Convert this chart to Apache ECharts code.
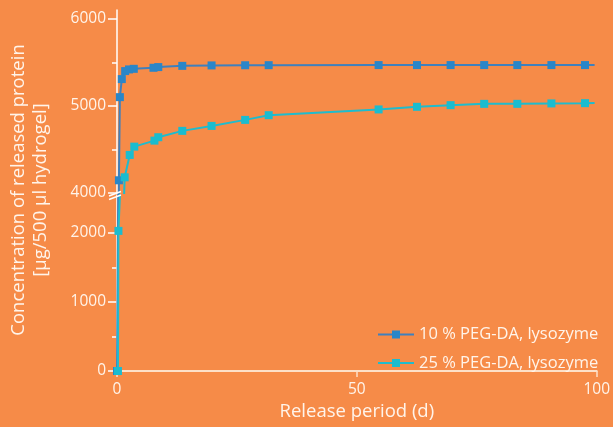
<!DOCTYPE html>
<html>
<head>
<meta charset="utf-8">
<style>
html,body{margin:0;padding:0;background:#f68b48;}
#c{width:613px;height:427px;}
</style>
<script src="https://cdn.jsdelivr.net/npm/echarts@6/dist/echarts.min.js"></script>
</head>
<body>
<div id="c"></div>
<script>
// ---- data ----
var seriesNames = ['10 % PEG-DA, lysozyme', '25 % PEG-DA, lysozyme'];
var days10 = [0, 0.4, 0.6, 1.0, 1.7, 2.5, 3.5, 7.6, 8.6, 13.6, 19.7, 26.7, 31.6, 54.5, 62.5, 69.5, 76.5, 83.4, 90.5, 97.5, 99.5];
var vals10 = [0, 4146, 5100, 5307, 5399, 5418, 5425, 5437, 5445, 5459, 5464, 5466, 5467, 5468, 5468, 5468, 5468, 5468, 5468, 5468, 5468];
var days25 = [0.2, 0.3, 1.6, 2.65, 3.6, 7.8, 8.6, 13.6, 19.7, 26.7, 31.6, 54.5, 62.5, 69.5, 76.5, 83.4, 90.5, 97.5, 99.5];
var vals25 = [0, 2030, 4180, 4437, 4532, 4601, 4640, 4713, 4770, 4839, 4893, 4959, 4989, 5008, 5023, 5023, 5028, 5031, 5034];
var upperLabels = [4000, 5000, 6000];
var upperMinor = [4500, 5500];
var lowerLabels = [0, 1000, 2000];
var lowerMinor = [500, 1500];
var xLabels = [0, 50, 100];

var bg = '#f68b48';
var txt = '#fff4ea';
var colors = ['#2a86c8', '#1bbccf'];
var lineColors = ['#3f80bd', '#1fbccd'];
var font = 'Open Sans';

function pts(d, v) {
  return d.map(function (x, i) {
    var item = { value: [x, v[i]] };
    if (i === d.length - 1) item.symbol = 'none';
    return item;
  });
}
function plain(v) { return String(v); }

var chart = echarts.init(document.getElementById('c'), null, { renderer: 'canvas' });

var grids = [
  { left: 117, right: 16, top: 10, height: 183 },
  { left: 117, right: 16, top: 195, height: 176 }
];

function yMain(gi, min, max, labels) {
  return {
    type: 'value', gridIndex: gi, min: min, max: max, position: 'left',
    axisLine: { show: true, onZero: false, lineStyle: { color: '#ffffff', width: 1.5 } },
    axisTick: { show: true, length: 9, customValues: labels, lineStyle: { color: '#ffffff', width: 1.5 } },
    axisLabel: { customValues: labels, formatter: plain, color: txt, fontSize: 15.5, fontFamily: font, margin: 11 },
    splitLine: { show: false }
  };
}
function yMinor(gi, min, max, vals) {
  return {
    type: 'value', gridIndex: gi, min: min, max: max, position: 'left', offset: 0,
    axisLine: { show: false },
    axisTick: { show: true, length: 5, customValues: vals, lineStyle: { color: '#ffffff', width: 1.5 } },
    axisLabel: { show: false },
    splitLine: { show: false }
  };
}

var series = [];
var sets = [[days10, vals10], [days25, vals25]];
[0, 1].forEach(function (gi) {
  [0, 1].forEach(function (si) {
    series.push({
      type: 'line', name: seriesNames[si], xAxisIndex: gi, yAxisIndex: gi * 2,
      data: pts(sets[si][0], sets[si][1]),
      clip: true,
      symbol: 'rect', symbolSize: 8,
      itemStyle: { color: colors[si] },
      lineStyle: { color: lineColors[si], width: 2 },
      z: 3 + si
    });
  });
});

var option = {
  backgroundColor: bg,
  animation: false,
  textStyle: { fontFamily: font },
  grid: grids,
  xAxis: [
    { type: 'value', gridIndex: 0, min: 0, max: 100, show: false },
    {
      type: 'value', gridIndex: 1, min: 0, max: 100, interval: 50,
      axisLine: { show: true, onZero: false, lineStyle: { color: '#fde0c8', width: 2 } },
      axisTick: { show: true, length: 6, lineStyle: { color: '#fde0c8', width: 1.5 } },
      axisLabel: { customValues: xLabels, formatter: plain, color: txt, fontSize: 15.5, fontFamily: font, margin: 11 },
      splitLine: { show: false },
      name: 'Release period (d)', nameLocation: 'middle', nameGap: 31,
      nameTextStyle: { color: txt, fontSize: 18.5, fontFamily: font }
    }
  ],
  yAxis: [
    yMain(0, 4000, 6100, upperLabels),
    yMinor(0, 4000, 6100, upperMinor),
    yMain(1, 0, 2550, lowerLabels),
    yMinor(1, 0, 2550, lowerMinor)
  ],
  legend: {
    data: seriesNames, orient: 'vertical', left: 372, top: 321,
    itemWidth: 36, itemHeight: 10, itemGap: 11.5,
    textStyle: { color: txt, fontSize: 16.5, fontFamily: font },
    inactiveColor: '#ccc'
  },
  graphic: [
    {
      type: 'text', x: 30, y: 190, rotation: Math.PI / 2,
      style: {
        text: 'Concentration of released protein\n[µg/500 µl hydrogel]',
        fill: txt, font: '18.5px "Open Sans"', align: 'center', verticalAlign: 'middle', lineHeight: 22
      }
    },
    { type: 'line', shape: { x1: 109, y1: 196, x2: 121, y2: 191.5 }, style: { stroke: '#ffffff', lineWidth: 1.5 }, z: 10 },
    { type: 'line', shape: { x1: 109, y1: 199.5, x2: 121, y2: 195 }, style: { stroke: '#ffffff', lineWidth: 1.5 }, z: 10 }
  ],
  series: series
};
chart.setOption(option);
</script>
</body>
</html>
